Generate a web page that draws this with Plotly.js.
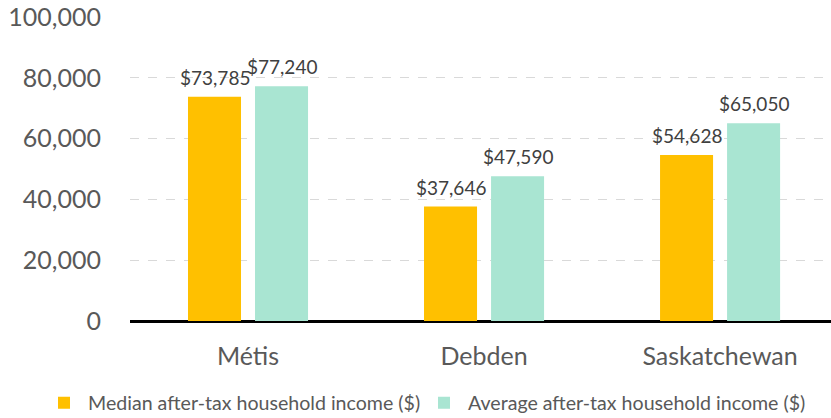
<!DOCTYPE html>
<html><head><meta charset="utf-8">
<script src="https://cdn.plot.ly/plotly-3.0.1.min.js"></script>
<style>html,body{margin:0;padding:0;background:#fff;}#chart{width:831px;height:418px;}</style>
</head><body><div id="chart"></div>
<script>
const categories = ["Métis", "Debden", "Saskatchewan"];
const medianIncome = [73785, 37646, 54628];
const averageIncome = [77240, 47590, 65050];
const seriesNames = ["Median after-tax household income ($)", "Average after-tax household income ($)"];
const yTickVals = [0, 20000, 40000, 60000, 80000, 100000];

const fmt = v => "$" + v.toLocaleString("en-US");
const FONT = "Lato, 'Open Sans', sans-serif";

const traces = [
  {type: "bar", name: seriesNames[0], x: categories, y: medianIncome, legend: "legend",
   marker: {color: "#FFC000"}, hoverinfo: "none"},
  {type: "bar", name: seriesNames[1], x: categories, y: averageIncome, legend: "legend2",
   marker: {color: "#A9E5D2"}, hoverinfo: "none"}
];

const labelFont = {family: FONT, size: 19, color: "#404040"};
const annotations = [];
categories.forEach((c, i) => {
  annotations.push({x: c, y: medianIncome[i], xref: "x", yref: "y", text: fmt(medianIncome[i]),
    showarrow: false, xanchor: "center", yanchor: "bottom", xshift: -33.5, yshift: 6, font: labelFont});
  annotations.push({x: c, y: averageIncome[i], xref: "x", yref: "y", text: fmt(averageIncome[i]),
    showarrow: false, xanchor: "center", yanchor: "bottom", xshift: 33.5, yshift: 6, font: labelFont});
});

const legendBase = {orientation: "h", xref: "container", yref: "container", y: 0.036,
  xanchor: "left", yanchor: "middle", font: {family: FONT, size: 19.6, color: "#595959"}, itemwidth: 38};

const layout = {
  width: 831, height: 418,
  margin: {l: 130, r: 0, t: 17, b: 97, pad: 0},
  paper_bgcolor: "#fff", plot_bgcolor: "#fff",
  font: {family: FONT, color: "#595959"},
  barmode: "group", bargap: 0.432, bargroupgap: 0.209,
  showlegend: true,
  annotations: annotations,
  legend: Object.assign({}, legendBase, {x: 40 / 831}),
  legend2: Object.assign({}, legendBase, {x: 420 / 831}),
  xaxis: {type: "category", range: [-0.5, 2.47], showgrid: false, showline: false, zeroline: false,
          ticks: "", tickfont: {family: FONT, size: 25, color: "#595959"}, ticklabelstandoff: 18, fixedrange: true},
  yaxis: {range: [0, 100000], tickvals: yTickVals, tickformat: ",d", showgrid: true,
          gridcolor: "#D9D9D9", griddash: "dash", gridwidth: 1,
          zeroline: true, zerolinecolor: "#000", zerolinewidth: 3, showline: false, ticks: "",
          tickfont: {family: FONT, size: 25, color: "#595959"}, ticklabelstandoff: 28, fixedrange: true}
};

Plotly.newPlot("chart", traces, layout, {displayModeBar: false, staticPlot: true});
</script></body></html>
